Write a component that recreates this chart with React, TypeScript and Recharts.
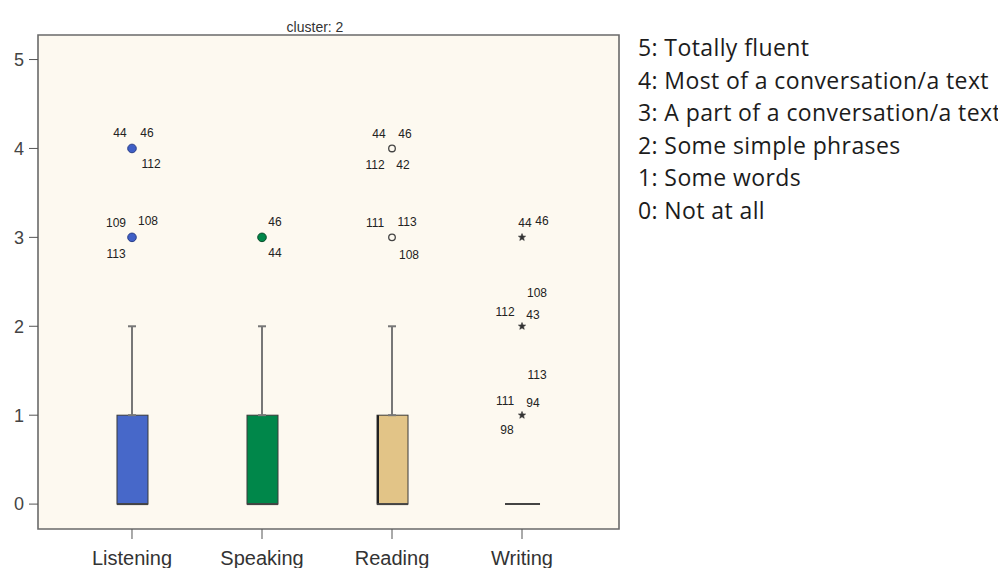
import {
  ComposedChart,
  Bar,
  Scatter,
  ErrorBar,
  XAxis,
  YAxis,
  ReferenceArea,
} from "recharts";

// skill areas on the x axis
const categories = ["Listening", "Speaking", "Reading", "Writing"];

// box statistics per skill (0..5 scale)
const lowerQuartile = [0, 0, 0, 0];
const medians = [0, 0, 0, 0];
const upperQuartile = [1, 1, 1, 0];
const upperWhisker = [2, 2, 2, 0];

const yTicks = [0, 1, 2, 3, 4, 5];

// outlying answers with the case numbers printed beside them
const listeningOutliers = [
  { value: 4, cases: ["44", "46", "112"] },
  { value: 3, cases: ["109", "108", "113"] },
];
const speakingOutliers = [{ value: 3, cases: ["46", "44"] }];
const readingOutliers = [
  { value: 4, cases: ["44", "46", "112", "42"] },
  { value: 3, cases: ["111", "113", "108"] },
];
const writingOutliers = [
  { value: 3, cases: ["44", "46"] },
  { value: 2, cases: ["108", "112", "43"] },
  { value: 1, cases: ["113", "111", "94", "98"] },
];

const scaleNotes = [
  "5: Totally fluent",
  "4: Most of a conversation/a text",
  "3: A part of a conversation/a text",
  "2: Some simple phrases",
  "1: Some words",
  "0: Not at all",
];

// where each case number sits around its marker (dx, dy in px)
const caseLabelOffsets: Record<string, [number, number][]> = {
  "Listening-4": [[-12, -15], [15, -15], [19, 16]],
  "Listening-3": [[-16, -14], [16, -16], [-16, 17]],
  "Speaking-3": [[13, -15], [13, 16]],
  "Reading-4": [[-13, -14], [13, -14], [-17, 17], [11, 17]],
  "Reading-3": [[-17, -14], [15, -15], [17, 18]],
  "Writing-3": [[3, -14], [20, -16]],
  "Writing-2": [[15, -33], [-17, -14], [11, -11]],
  "Writing-1": [[15, -40], [-17, -14], [11, -12], [-15, 15]],
};

const boxFills = ["#4768C9", "#00874A", "#E2C487", "#E2C487"];
const X_DOMAIN: [number, number] = [0.277, 4.746];
const Y_DOMAIN: [number, number] = [-0.28, 5.276];
const NARROW = "'Liberation Sans Narrow', 'Liberation Sans', Arial, sans-serif";

const boxRows = categories.map((name, i) => ({
  x: i + 1,
  name,
  q1: lowerQuartile[i],
  median: medians[i],
  q3: upperQuartile[i],
  whisker: upperWhisker[i],
}));

const whiskerRows = boxRows
  .filter((r) => r.whisker > r.q3)
  .map((r) => ({ x: r.x, y: r.whisker, err: [r.whisker - r.q3, 0] }));

const toPoints = (idx: number, list: { value: number; cases: string[] }[]) =>
  list.map((o) => ({ x: idx + 1, y: o.value, cases: o.cases, key: `${categories[idx]}-${o.value}` }));

const BoxShape = (props: any) => {
  const { x, y, width, height, payload } = props;
  const i = payload.x - 1;
  const span = payload.q3 - payload.q1;
  const medY = span > 0 ? y + (height * (payload.q3 - payload.median)) / span : y;
  return (
    <g>
      {height > 0 && (
        <rect x={x} y={y} width={width} height={height} fill={boxFills[i]} stroke="#3a3a3a" strokeWidth={1} />
      )}
      {height > 0 && i === 2 && (
        <line x1={x + 1} x2={x + 1} y1={y} y2={y + height} stroke="#222" strokeWidth={2} />
      )}
      <line x1={height > 0 ? x : x - 2} x2={height > 0 ? x + width : x + width + 2} y1={medY} y2={medY} stroke="#444" strokeWidth={2} />
    </g>
  );
};

const CaseLabels = ({ cx, cy, payload }: any) => {
  const offs = caseLabelOffsets[payload.key] || [];
  return (
    <>
      {payload.cases.map((c: string, k: number) => (
        <text
          key={c + k}
          x={cx + (offs[k]?.[0] ?? 12)}
          y={cy + (offs[k]?.[1] ?? -14)}
          textAnchor="middle"
          dominantBaseline="central"
          fontSize={12}
          fontFamily={NARROW}
          fill="#222"
        >
          {c}
        </text>
      ))}
    </>
  );
};

const dotShape = (fill: string, stroke: string) => (p: any) => (
  <g>
    <circle cx={p.cx} cy={p.cy} r={4.3} fill={fill} stroke={stroke} strokeWidth={1} />
    <CaseLabels {...p} />
  </g>
);

const ringShape = (p: any) => (
  <g>
    <circle cx={p.cx} cy={p.cy} r={3.3} fill="none" stroke="#444" strokeWidth={1.3} />
    <CaseLabels {...p} />
  </g>
);

const starShape = (p: any) => {
  const pts: string[] = [];
  for (let k = 0; k < 10; k++) {
    const r = k % 2 === 0 ? 3.8 : 1.6;
    const a = -Math.PI / 2 + (k * Math.PI) / 5;
    pts.push(`${p.cx + r * Math.cos(a)},${p.cy + r * Math.sin(a)}`);
  }
  return (
    <g>
      <polygon points={pts.join(" ")} fill="#333" stroke="#333" strokeWidth={0.6} />
      <CaseLabels {...p} />
    </g>
  );
};

export default function App() {
  return (
    <div style={{ position: "relative", width: 990, height: 560, fontFamily: "'Liberation Sans', Arial, sans-serif" }}>
      <div
        style={{
          position: "absolute",
          left: 307,
          top: 19,
          transform: "translate(-50%, -50%)",
          fontSize: 14,
          fontFamily: NARROW,
          color: "#333",
          whiteSpace: "nowrap",
        }}
      >
        cluster: 2
      </div>

      <ComposedChart
        width={640}
        height={560}
        data={boxRows}
        margin={{ top: 27, right: 29, bottom: 0, left: 0 }}
      >
        <ReferenceArea
          x1={X_DOMAIN[0]}
          x2={X_DOMAIN[1]}
          y1={Y_DOMAIN[0]}
          y2={Y_DOMAIN[1]}
          fill="#FDF9F0"
          fillOpacity={1}
          stroke="#6a6a6a"
          strokeWidth={1.6}
          ifOverflow="visible"
        />
        <XAxis
          type="number"
          dataKey="x"
          domain={X_DOMAIN}
          ticks={[1, 2, 3, 4]}
          interval={0}
          allowDataOverflow
          height={39}
          axisLine={false}
          tickSize={10}
          tickMargin={12}
          tickLine={{ stroke: "#555" }}
          tick={{ fontSize: 20, fill: "#333" }}
          tickFormatter={(v: number) => categories[v - 1]}
        />
        <YAxis
          type="number"
          domain={Y_DOMAIN}
          ticks={yTicks}
          allowDataOverflow
          width={30}
          axisLine={false}
          tickSize={9}
          tickMargin={5}
          tickLine={{ stroke: "#555" }}
          tick={{ fontSize: 18, fill: "#444" }}
        />
        <Bar
          dataKey={(d: any) => [d.q1, d.q3]}
          barSize={31}
          shape={BoxShape}
          isAnimationActive={false}
        />
        <Scatter data={whiskerRows} dataKey="y" shape={() => <g />} isAnimationActive={false}>
          <ErrorBar dataKey="err" direction="y" width={4} stroke="#777" strokeWidth={2} isAnimationActive={false} />
        </Scatter>
        <Scatter data={toPoints(0, listeningOutliers)} dataKey="y" shape={dotShape("#3F5FC6", "#2a3f88")} isAnimationActive={false} />
        <Scatter data={toPoints(1, speakingOutliers)} dataKey="y" shape={dotShape("#00874A", "#0b4d2c")} isAnimationActive={false} />
        <Scatter data={toPoints(2, readingOutliers)} dataKey="y" shape={ringShape} isAnimationActive={false} />
        <Scatter data={toPoints(3, writingOutliers)} dataKey="y" shape={starShape} isAnimationActive={false} />
      </ComposedChart>

      <div
        style={{
          position: "absolute",
          left: 630,
          top: 23,
          fontFamily: "'Open Sans', 'Noto Sans', sans-serif",
          fontSize: 23,
          letterSpacing: 0.4,
          lineHeight: "32.5px",
          color: "#1c1c1c",
          whiteSpace: "nowrap",
        }}
      >
        {scaleNotes.map((t) => (
          <div key={t}>{t}</div>
        ))}
      </div>
    </div>
  );
}
